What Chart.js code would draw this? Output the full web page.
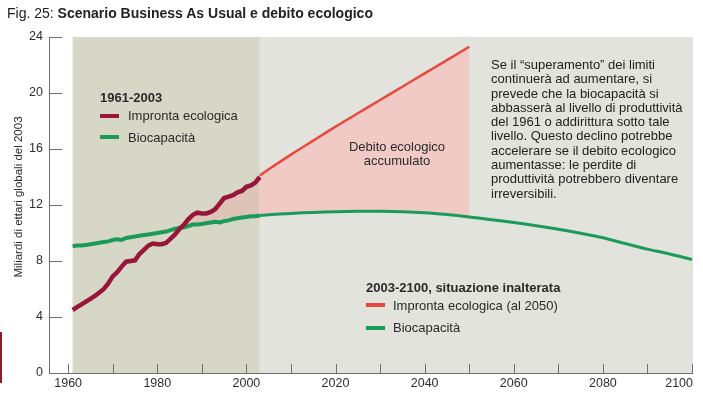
<!DOCTYPE html>
<html lang="it">
<head>
  <meta charset="UTF-8" />
  <title>Fig. 25: Scenario Business As Usual e debito ecologico</title>
  <script src="https://cdn.jsdelivr.net/npm/chart.js"></script>
  <style>
    body {
      margin: 0;
      background: #fff;
      font-family: 'Liberation Sans', Arial, sans-serif;
      color: #2a2a2a;
    }
    #wrap { position: relative; width: 703px; height: 401px; overflow: hidden; }
    canvas { position: absolute; left: 0; top: 0; }
    .t { position: absolute; white-space: pre; font-size: 13px; line-height: 15px; }
    .b { font-weight: bold; }
    .sw { position: absolute; width: 19px; height: 4px; }
    #title { left: 7px; top: 5px; font-size: 14px; line-height: 16px; color: #222; }
    #ytitle {
      left: 18px; top: 197px; font-size: 11.5px;
      transform: translate(-50%, -50%) rotate(-90deg);
    }
    #note { left: 491px; top: 58px; line-height: 14.3px; color: #222; }
    #debt { left: 397px; top: 140px; line-height: 14.4px; text-align: center; transform: translateX(-50%); }
    #edge { position: absolute; left: 0; top: 332px; width: 2px; height: 51px; background: #8e1b2c; }
  </style>
</head>
<body>
<div id="wrap">
  <canvas id="chart" width="703" height="401"></canvas>
  <div class="t" id="title">Fig. 25: <span class="b">Scenario Business As Usual e debito ecologico</span></div>
  <div class="t" id="ytitle">Miliardi di ettari globali del 2003</div>

  <div class="t b" style="left:100px; top:90px;">1961-2003</div>
  <div class="sw" style="left:100px; top:114px; background:#98163a;"></div>
  <div class="t" style="left:128px; top:108px;">Impronta ecologica</div>
  <div class="sw" style="left:100px; top:135px; background:#1c9a5a;"></div>
  <div class="t" style="left:128px; top:130px;">Biocapacità</div>

  <div class="t" id="debt">Debito ecologico
accumulato</div>

  <div class="t" id="note">Se il “superamento” dei limiti
continuerà ad aumentare, si
prevede che la biocapacità si
abbasserà al livello di produttività
del 1961 o addirittura sotto tale
livello. Questo declino potrebbe
accelerare se il debito ecologico
aumentasse: le perdite di
produttività potrebbero diventare
irreversibili.</div>

  <div class="t b" style="left:366px; top:280px;">2003-2100, situazione inalterata</div>
  <div class="sw" style="left:366px; top:303px; background:#e8473d;"></div>
  <div class="t" style="left:393px; top:298px;">Impronta ecologica (al 2050)</div>
  <div class="sw" style="left:366px; top:326px; background:#1c9a5a;"></div>
  <div class="t" style="left:393px; top:320px;">Biocapacità</div>

  <div id="edge"></div>
</div>
<script>
  // values (billions of global hectares, 2003)
  const histYears = [1961, 1962, 1963, 1964, 1965, 1966, 1967, 1968, 1969, 1970,
    1971, 1972, 1973, 1974, 1975, 1976, 1977, 1978, 1979, 1980,
    1981, 1982, 1983, 1984, 1985, 1986, 1987, 1988, 1989, 1990,
    1991, 1992, 1993, 1994, 1995, 1996, 1997, 1998, 1999, 2000,
    2001, 2002, 2003];
  const histFootprint = [4.5, 4.7, 4.9, 5.1, 5.3, 5.5, 5.75, 6.0, 6.4, 6.9,
    7.2, 7.6, 7.95, 8.0, 8.05, 8.5, 8.8, 9.1, 9.25, 9.2,
    9.2, 9.3, 9.6, 9.9, 10.3, 10.6, 11.0, 11.3, 11.45, 11.4,
    11.4, 11.5, 11.7, 12.1, 12.5, 12.6, 12.7, 12.9, 13.0, 13.3,
    13.4, 13.6, 14.0];
  const histBiocap = [9.05, 9.1, 9.1, 9.15, 9.2, 9.25, 9.3, 9.35, 9.4, 9.5,
    9.55, 9.5, 9.65, 9.7, 9.75, 9.8, 9.85, 9.9, 9.95, 10.0,
    10.05, 10.1, 10.2, 10.3, 10.35, 10.4, 10.5, 10.6, 10.6, 10.65,
    10.7, 10.75, 10.8, 10.75, 10.85, 10.9, 11.0, 11.05, 11.1, 11.15,
    11.2, 11.2, 11.25];

  const projYears = [2003, 2005, 2010, 2015, 2020, 2025, 2030, 2035, 2040, 2045, 2050];
  const projFootprint = [14.1, 14.55, 15.6, 16.6, 17.6, 18.55, 19.5, 20.45, 21.4, 22.35, 23.3];

  const futureYears = [2003, 2005, 2010, 2015, 2020, 2025, 2030, 2035, 2040, 2045, 2050,
    2055, 2060, 2065, 2070, 2075, 2080, 2085, 2090, 2095, 2100];
  const futureBiocap = [11.25, 11.3, 11.4, 11.47, 11.52, 11.55, 11.55, 11.52, 11.45, 11.32, 11.15,
    10.95, 10.75, 10.52, 10.27, 9.98, 9.66, 9.25, 8.85, 8.5, 8.1];

  const yTicks = [0, 4, 8, 12, 16, 20, 24];
  const xTickMarks = [1960, 1970, 1980, 1990, 2000, 2010, 2020, 2030, 2040, 2050, 2060, 2070, 2080, 2090, 2100];
  const xTickLabels = ['1960', '1980', '2000', '2020', '2040', '2060', '2080', '2100'];

  const periodStart = 1961, periodSplit = 2003;

  const pts = (xs, ys) => xs.map((x, i) => ({ x: x, y: ys[i] }));

  const backdrop = {
    id: 'backdrop',
    beforeDraw(chart) {
      const { ctx, scales: { x, y } } = chart;
      const x0 = x.getPixelForValue(periodStart);
      const x1 = x.getPixelForValue(periodSplit);
      const x2 = x.getPixelForValue(2100) + 1;
      const top = y.getPixelForValue(24);
      const bot = y.getPixelForValue(0);
      ctx.save();
      ctx.fillStyle = '#e2e3dd';
      ctx.fillRect(x1, top, x2 - x1, bot - top);
      ctx.fillStyle = '#d6d7c7';
      ctx.fillRect(x0, top, x1 - x0, bot - top);
      ctx.restore();
    }
  };

  // inner tick marks and x labels (last one kept inside the canvas)
  const axisMarks = {
    id: 'axisMarks',
    afterDatasetsDraw(chart) {
      const { ctx, scales: { x, y } } = chart;
      const ax = x.left, ay = y.bottom;
      ctx.save();
      ctx.strokeStyle = '#6f6f6f';
      ctx.lineWidth = 1;
      ctx.beginPath();
      yTicks.slice(1).forEach(v => {
        const py = Math.round(y.getPixelForValue(v)) + 0.5;
        ctx.moveTo(ax, py);
        ctx.lineTo(ax + 13, py);
      });
      xTickMarks.forEach(v => {
        const px = Math.round(x.getPixelForValue(v)) + 0.5;
        ctx.moveTo(px, ay);
        ctx.lineTo(px, ay - 9);
      });
      ctx.stroke();
      ctx.fillStyle = '#2e2e2e';
      ctx.font = "12.5px 'Liberation Sans', Arial, sans-serif";
      ctx.textBaseline = 'middle';
      xTickLabels.forEach((lab, i) => {
        const px = x.getPixelForValue(Number(lab));
        const last = i === xTickLabels.length - 1;
        ctx.textAlign = last ? 'right' : 'center';
        ctx.fillText(lab, last ? px + 1 : px, ay + 11);
      });
      ctx.restore();
    }
  };

  new Chart(document.getElementById('chart'), {
    type: 'line',
    data: {
      datasets: [
        {
          label: 'Impronta ecologica',
          data: pts(histYears, histFootprint),
          borderColor: '#98163a',
          borderWidth: 4.5,
          pointRadius: 0,
          tension: 0,
          fill: { target: 1, above: 'rgba(238,160,155,0.35)', below: 'rgba(0,0,0,0)' }
        },
        {
          label: 'Biocapacità',
          data: pts(histYears, histBiocap),
          borderColor: '#1c9a5a',
          borderWidth: 4,
          pointRadius: 0,
          tension: 0,
          fill: false
        },
        {
          label: 'Impronta ecologica (al 2050)',
          data: pts(projYears, projFootprint),
          borderColor: '#e8473d',
          borderWidth: 2.5,
          pointRadius: 0,
          tension: 0.3,
          fill: { target: 3, above: '#f2cac5', below: 'rgba(0,0,0,0)' }
        },
        {
          label: 'Biocapacità 2003-2100',
          data: pts(futureYears, futureBiocap),
          borderColor: '#1c9a5a',
          borderWidth: 3,
          pointRadius: 0,
          tension: 0.3,
          fill: false
        }
      ]
    },
    options: {
      responsive: false,
      animation: false,
      devicePixelRatio: 1,
      layout: { autoPadding: false, padding: { top: 37, right: 11, left: 0, bottom: 0 } },
      plugins: {
        legend: { display: false },
        tooltip: { enabled: false },
        filler: { drawTime: 'beforeDatasetsDraw' }
      },
      scales: {
        x: {
          type: 'linear',
          min: 1955.7,
          max: 2100,
          grid: { display: false },
          border: { display: true, color: '#6f6f6f', width: 1 },
          ticks: { display: false },
          afterFit: s => { s.height = 28; }
        },
        y: {
          min: 0,
          max: 24,
          grid: { display: false, drawTicks: false },
          border: { display: true, color: '#6f6f6f', width: 1 },
          ticks: {
            stepSize: 4,
            padding: 6,
            color: '#2e2e2e',
            font: { family: "'Liberation Sans', Arial, sans-serif", size: 12.5 }
          },
          afterFit: s => { s.width = 49; }
        }
      }
    },
    plugins: [backdrop, axisMarks]
  });
</script>
</body>
</html>
